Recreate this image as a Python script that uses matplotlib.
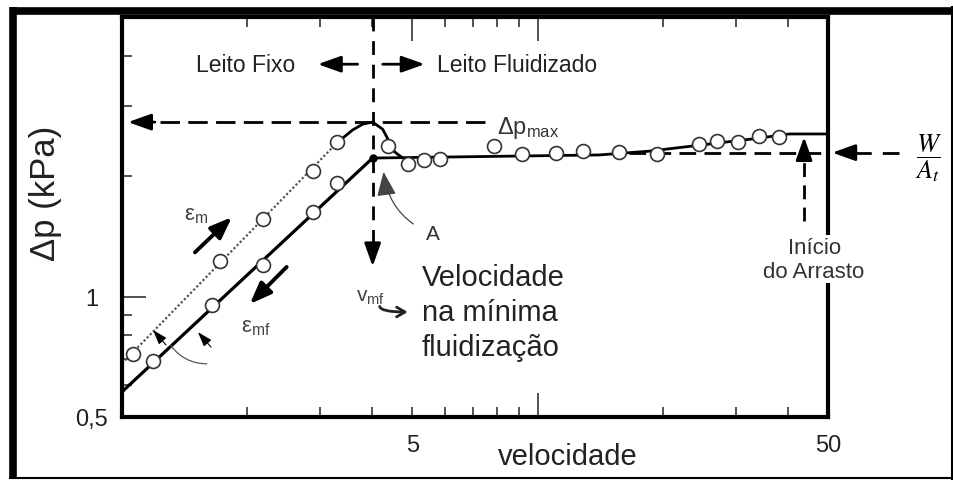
import matplotlib.pyplot as plt
from matplotlib.ticker import NullFormatter

plt.rcParams['font.family'] = ['Liberation Sans', 'DejaVu Sans']
plt.rcParams['mathtext.fontset'] = 'custom'
plt.rcParams['mathtext.rm'] = 'Liberation Sans'
plt.rcParams['mathtext.it'] = 'Liberation Sans:italic'
plt.rcParams['mathtext.bf'] = 'Liberation Sans:bold'

# leito fixo, velocidade crescente (eps_m)
u_subida = [1.06, 1.72, 2.18, 2.88, 3.30]
dp_subida = [0.72, 1.23, 1.56, 2.06, 2.43]
# leito fixo, velocidade decrescente (eps_mf)
u_descida = [1.19, 1.65, 2.18, 2.88, 3.30]
dp_descida = [0.69, 0.95, 1.20, 1.63, 1.92]
# leito fluidizado
u_fluid = [4.36, 4.87, 5.32, 5.81, 7.84, 9.15, 11.05, 12.9, 15.7, 19.4,
           24.5, 27.1, 30.4, 34.2, 38.2]
dp_fluid = [2.38, 2.15, 2.20, 2.21, 2.38, 2.27, 2.29, 2.31, 2.30, 2.27,
            2.41, 2.45, 2.43, 2.52, 2.51]

# curvas de tendencia
u_reta_m = [1.0, 3.30]
dp_reta_m = [0.68, 2.43]
u_pico = [3.30, 3.59, 3.80, 4.01, 4.24, 4.36, 4.53, 4.71]
dp_pico = [2.43, 2.61, 2.70, 2.73, 2.62, 2.48, 2.30, 2.23]
u_reta_mf = [1.0, 4.01]
dp_reta_mf = [0.578, 2.22]
u_plato = [4.01, 14.1, 18.6, 24.5, 34.2, 40.3, 50.0]
dp_plato = [2.22, 2.26, 2.31, 2.39, 2.49, 2.55, 2.55]

u_mf = 4.01
dp_max = 2.73
dp_WA = 2.29
u_arrasto = 43.8

x_major = [5, 10, 50]
x_major_lbl = ['5', '', '50']
x_minor = [2, 3, 4, 6, 7, 8, 9, 20, 30, 40]
y_major = [0.5, 1]
y_major_lbl = ['0,5', '1']
y_minor = [0.6, 0.7, 0.8, 0.9, 2, 3, 4]


def seta(ax, ini, fim, lw=2.0, hl=1.4, hw=0.5, color='k'):
    ax.annotate('', xy=fim, xytext=ini, annotation_clip=False,
                arrowprops=dict(arrowstyle=f'-|>,head_length={hl},head_width={hw}',
                                color=color, lw=lw, shrinkA=0, shrinkB=0))


fig = plt.figure(figsize=(9.54, 4.81), dpi=100)

# moldura externa
frame = fig.add_axes([0, 0, 1, 1], zorder=-5)
frame.set_xlim(0, 954)
frame.set_ylim(481, 0)
frame.axis('off')
frame.plot([13.5, 13.5], [8, 480], 'k', lw=5.5, solid_capstyle='butt')
frame.plot([10, 954], [11.5, 11.5], 'k', lw=5.5, solid_capstyle='butt')
frame.plot([952, 952], [8, 480], 'k', lw=1.5)
frame.plot([10, 954], [478.5, 478.5], 'k', lw=1.5)

ax = fig.add_axes([0.1279, 0.1310, 0.7400, 0.8316])
ax.set_xscale('log')
ax.set_yscale('log')
ax.set_xlim(1, 50)
ax.set_ylim(0.5, 5)

for s in ax.spines.values():
    s.set_linewidth(3)

# retas do leito fixo e plato
ax.plot(u_reta_m, dp_reta_m, color='#555555', lw=1.6, ls=(0, (1, 1)))
ax.plot(u_pico, dp_pico, 'k-', lw=2)
ax.plot(u_reta_mf, dp_reta_mf, 'k-', lw=2.3)
ax.plot(u_plato, dp_plato, 'k-', lw=2)
ax.plot([u_mf], [dp_reta_mf[-1]], 'ko', ms=5, zorder=5)

for u, dp in [(u_subida, dp_subida), (u_descida, dp_descida), (u_fluid, dp_fluid)]:
    ax.plot(u, dp, 'o', ls='none', ms=10, mfc='white', mec='#333333', mew=1.2, zorder=4)

# linhas tracejadas
ax.plot([u_mf, u_mf], [5.0, 1.32], 'k', lw=2, dashes=(5, 3.5))
seta(ax, (u_mf, 1.34), (u_mf, 1.19))
ax.plot([7.46, 1.15], [dp_max, dp_max], 'k', lw=2, dashes=(7, 3))
seta(ax, (1.2, dp_max), (1.034, dp_max))
ax.plot([16.6, 50], [dp_WA, dp_WA], 'k', lw=2, dashes=(6, 3))
ax.plot([74.2, 57], [dp_WA, dp_WA], 'k', lw=2, dashes=(6, 4), clip_on=False)
seta(ax, (58, dp_WA), (51.2, dp_WA))
ax.plot([u_arrasto, u_arrasto], [1.545, 2.3], 'k', lw=2, dashes=(5, 3))
seta(ax, (u_arrasto, 2.3), (u_arrasto, 2.505))

# regioes
seta(ax, (3.69, 3.81), (2.96, 3.81))
seta(ax, (4.24, 3.81), (5.35, 3.81))
ax.text(2.61, 3.81, 'Leito Fixo', ha='right', va='center', fontsize=16.5, color='#222222')
ax.text(5.72, 3.81, 'Leito Fluidizado', ha='left', va='center', fontsize=16.5, color='#222222')
ax.text(7.97, 2.65, r'$\Delta\mathrm{p}_{\mathrm{max}}$', ha='left', va='center',
        fontsize=17, color='#333333')

# porosidades
seta(ax, (1.498, 1.29), (1.838, 1.58), lw=2.8, hl=1.3, hw=0.5)
seta(ax, (2.49, 1.186), (2.03, 0.958), lw=2.8, hl=1.3, hw=0.5)
ax.text(1.506, 1.60, r'ε$_{\mathrm{m}}$', ha='center', va='center',
        fontsize=16, color='#444444')
ax.text(2.10, 0.84, r'ε$_{\mathrm{mf}}$', ha='center', va='center',
        fontsize=16, color='#444444')
seta(ax, (1.276, 0.757), (1.187, 0.825), lw=0.8, hl=0.9, hw=0.3)
seta(ax, (1.637, 0.748), (1.523, 0.815), lw=0.8, hl=0.9, hw=0.3)
ax.annotate('', xy=(1.6, 0.679), xytext=(1.31, 0.755),
            arrowprops=dict(arrowstyle='-', color='#555555', lw=0.9,
                            connectionstyle='arc3,rad=0.25', shrinkA=0, shrinkB=0))

# ponto A e velocidade minima
ax.annotate('A', xy=(4.26, 2.05), xytext=(5.59, 1.434), fontsize=15, ha='center',
            va='center', color='#333333',
            arrowprops=dict(arrowstyle='-|>,head_length=1.0,head_width=0.4',
                            color='#444444', lw=0.9, connectionstyle='arc3,rad=-0.3',
                            shrinkA=8, shrinkB=0))
ax.text(3.65, 1.0, r'$\mathrm{v}_{\mathrm{mf}}$', ha='left', va='center',
        fontsize=15, color='#444444')
ax.annotate('', xy=(4.87, 0.915), xytext=(4.17, 0.945),
            arrowprops=dict(arrowstyle='->,head_length=0.6,head_width=0.35', lw=2,
                            color='#222222', shrinkA=0, shrinkB=0,
                            connectionstyle='angle3,angleA=-80,angleB=0'))
ax.text(5.26, 0.915, 'Velocidade\nna mínima\nfluidização', ha='left', va='center',
        fontsize=21, linespacing=1.3, color='#222222')

ax.text(46.3, 1.24, 'Início\ndo Arrasto', ha='center', va='center', fontsize=16,
        color='#333333', linespacing=1.2, zorder=6,
        bbox=dict(facecolor='white', edgecolor='none', pad=1))
ax.text(87.5, 2.23, r'$\dfrac{W}{A_t}$', math_fontfamily='stix', fontsize=19,
        ha='center', va='center', clip_on=False)

# eixos
ax.set_xticks(x_major, x_major_lbl, fontsize=17, color='#222222')
ax.set_xticks(x_minor, minor=True)
ax.xaxis.set_minor_formatter(NullFormatter())
ax.set_yticks(y_major, y_major_lbl, fontsize=17, color='#222222', ha='center')
ax.set_yticks(y_minor, minor=True)
ax.yaxis.set_minor_formatter(NullFormatter())
ax.tick_params(axis='x', which='both', direction='in', top=True, bottom=True,
               width=1.3, color='#444444')
ax.tick_params(axis='x', which='major', length=17, pad=12)
ax.tick_params(axis='x', which='minor', length=7)
ax.tick_params(axis='y', which='both', direction='in', left=True, right=False,
               width=1.3, color='#444444')
ax.tick_params(axis='y', which='major', length=17, pad=22)
ax.tick_params(axis='y', which='minor', length=7)
ax.xaxis.get_major_ticks()[0].tick1line.set_markersize(7)

fig.text(45 / 954, 1 - 193 / 481, 'Δp (kPa)', rotation=90, ha='center', va='center',
         fontsize=25, color='#222222')
fig.text(568 / 954, 1 - 457 / 481, 'velocidade', ha='center', va='center',
         fontsize=21, color='#222222')

fig.savefig('out.png', dpi=100)
